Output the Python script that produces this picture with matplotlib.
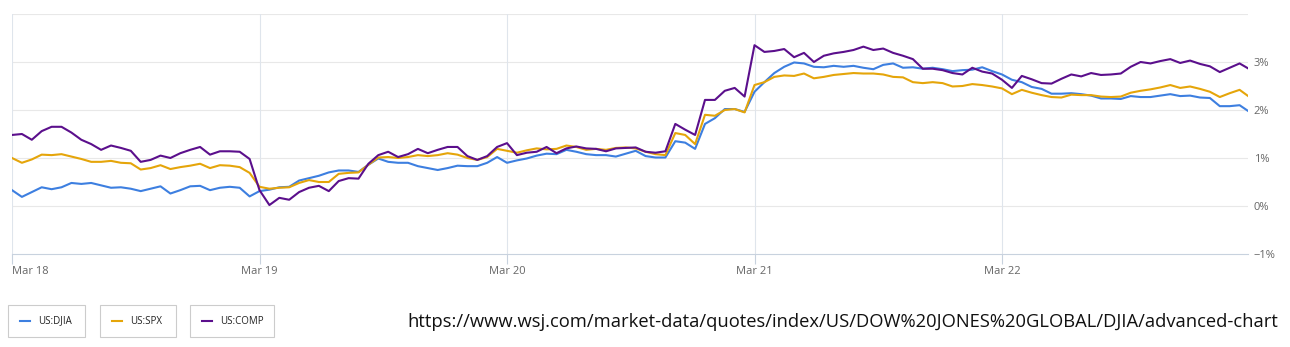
import matplotlib
matplotlib.use("Agg")
import matplotlib.pyplot as plt
import numpy as np
from matplotlib.lines import Line2D
from matplotlib.patches import Rectangle

# percent change, sampled 25 times per session
djia = [0.33, 0.19, 0.29, 0.39, 0.35, 0.39, 0.48, 0.46, 0.48, 0.43,
        0.38, 0.39, 0.36, 0.31, 0.36, 0.41, 0.26, 0.33, 0.41, 0.42,
        0.33, 0.38, 0.40, 0.38, 0.20, 0.31, 0.34, 0.39, 0.40, 0.53,
        0.58, 0.63, 0.70, 0.74, 0.74, 0.71, 0.86, 0.99, 0.92, 0.90,
        0.90, 0.83, 0.79, 0.75, 0.79, 0.84, 0.83, 0.83, 0.90, 1.02,
        0.90, 0.95, 0.99, 1.05, 1.09, 1.08, 1.17, 1.13, 1.08, 1.06,
        1.06, 1.03, 1.09, 1.15, 1.04, 1.01, 1.01, 1.35, 1.32, 1.19,
        1.71, 1.83, 2.02, 2.02, 1.96, 2.38, 2.58, 2.77, 2.90, 2.99,
        2.97, 2.90, 2.89, 2.92, 2.90, 2.92, 2.88, 2.85, 2.94, 2.97,
        2.88, 2.89, 2.86, 2.88, 2.85, 2.81, 2.83, 2.84, 2.89, 2.81,
        2.74, 2.63, 2.58, 2.48, 2.44, 2.34, 2.34, 2.35, 2.33, 2.30,
        2.24, 2.24, 2.23, 2.29, 2.27, 2.27, 2.30, 2.33, 2.29, 2.30,
        2.26, 2.25, 2.08, 2.08, 2.10, 1.96]
spx = [1.00, 0.90, 0.97, 1.07, 1.06, 1.08, 1.03, 0.98, 0.92, 0.92,
       0.94, 0.90, 0.89, 0.76, 0.79, 0.85, 0.77, 0.81, 0.84, 0.88,
       0.79, 0.85, 0.84, 0.81, 0.69, 0.40, 0.36, 0.38, 0.39, 0.48,
       0.54, 0.50, 0.50, 0.67, 0.69, 0.70, 0.86, 1.01, 1.02, 1.00,
       1.02, 1.06, 1.04, 1.06, 1.10, 1.07, 1.00, 0.96, 1.02, 1.19,
       1.15, 1.11, 1.16, 1.20, 1.18, 1.19, 1.26, 1.23, 1.17, 1.19,
       1.17, 1.21, 1.22, 1.20, 1.13, 1.08, 1.06, 1.52, 1.48, 1.29,
       1.90, 1.88, 2.00, 2.02, 1.95, 2.52, 2.58, 2.69, 2.72, 2.71,
       2.76, 2.66, 2.69, 2.73, 2.75, 2.77, 2.76, 2.76, 2.74, 2.69,
       2.68, 2.58, 2.56, 2.58, 2.56, 2.49, 2.50, 2.54, 2.52, 2.49,
       2.45, 2.33, 2.42, 2.36, 2.31, 2.27, 2.26, 2.32, 2.31, 2.31,
       2.28, 2.27, 2.28, 2.36, 2.40, 2.43, 2.47, 2.52, 2.46, 2.49,
       2.44, 2.38, 2.27, 2.35, 2.42, 2.27]
comp = [1.48, 1.50, 1.38, 1.56, 1.65, 1.65, 1.53, 1.38, 1.29, 1.17,
        1.26, 1.21, 1.15, 0.92, 0.96, 1.05, 1.00, 1.10, 1.17, 1.23,
        1.07, 1.14, 1.14, 1.13, 0.98, 0.33, 0.02, 0.17, 0.13, 0.29,
        0.38, 0.42, 0.31, 0.52, 0.58, 0.57, 0.88, 1.06, 1.13, 1.02,
        1.08, 1.19, 1.10, 1.17, 1.23, 1.23, 1.04, 0.96, 1.04, 1.23,
        1.31, 1.06, 1.11, 1.13, 1.23, 1.10, 1.20, 1.24, 1.20, 1.19,
        1.14, 1.20, 1.21, 1.22, 1.13, 1.11, 1.14, 1.71, 1.59, 1.48,
        2.21, 2.21, 2.40, 2.46, 2.28, 3.35, 3.21, 3.23, 3.27, 3.10,
        3.19, 3.00, 3.13, 3.18, 3.21, 3.25, 3.32, 3.25, 3.28, 3.19,
        3.13, 3.06, 2.86, 2.86, 2.83, 2.77, 2.74, 2.88, 2.80, 2.76,
        2.63, 2.46, 2.71, 2.64, 2.56, 2.55, 2.65, 2.74, 2.70, 2.77,
        2.73, 2.74, 2.76, 2.90, 3.00, 2.97, 3.02, 3.06, 2.98, 3.03,
        2.96, 2.91, 2.79, 2.88, 2.97, 2.85]

names = ["US:DJIA", "US:SPX", "US:COMP"]
colors = ["#3d7fe0", "#e5a50a", "#5b0f8c"]
day_labels = ["Mar 18", "Mar 19", "Mar 20", "Mar 21", "Mar 22"]
y_ticks = [-1, 0, 1, 2, 3, 4]
per_day = 25

fig = plt.figure(figsize=(12.9, 3.47), dpi=100)
ax = fig.add_axes([12 / 1290, 93 / 347, 1236 / 1290, 240 / 347])

x = np.arange(len(djia))
for series, c in zip([djia, spx, comp], colors):
    ax.plot(x, series, color=c, lw=1.5, solid_joinstyle="round")

ax.set_xlim(0, 1236 / 9.9)
ax.set_ylim(-1, 4)

day_pos = [i * per_day for i in range(len(day_labels))]
ax.set_xticks(day_pos)
ax.set_xticklabels(day_labels)
ax.get_xticklabels()[0].set_ha("left")
ax.set_yticks(y_ticks)
ax.set_yticklabels(["\u22121%", "0%", "1%", "2%", "3%", ""])

ax.yaxis.tick_right()
for s in ["top", "right", "left"]:
    ax.spines[s].set_visible(False)
ax.spines["bottom"].set_color("#c8d2de")
ax.tick_params(axis="x", length=7, color="#c8d2de", labelsize=8,
               labelcolor="#666666", pad=2)
ax.tick_params(axis="y", length=0, labelsize=8, labelcolor="#666666", pad=4)
for t in ax.get_xticklabels() + ax.get_yticklabels():
    t.set_fontfamily("Open Sans")

for v in y_ticks[1:]:
    ax.axhline(v, color="#e8e8e8", lw=0.8, zorder=0)
for p in day_pos:
    ax.axvline(p, color="#dfe5ec", lw=0.8, zorder=0)

# legend boxes
boxes = [(8, 77), (100, 76), (190, 84)]
for (bx, bw), name, c in zip(boxes, names, colors):
    fig.add_artist(Rectangle((bx / 1290, 10 / 347), bw / 1290, 32 / 347,
                             transform=fig.transFigure, fc="white",
                             ec="#cccccc", lw=0.8))
    fig.add_artist(Line2D([(bx + 12) / 1290, (bx + 22) / 1290],
                          [26 / 347, 26 / 347], transform=fig.transFigure,
                          color=c, lw=1.5))
    fig.text((bx + 30) / 1290, 26 / 347, name, fontsize=7,
             family="Open Sans", color="#222222", va="center")

fig.text(1278 / 1290, 25 / 347,
         "https://www.wsj.com/market-data/quotes/index/US/DOW%20JONES%20GLOBAL/DJIA/advanced-chart",
         fontsize=13.2, family="Open Sans", color="#111111", ha="right",
         va="center")

fig.savefig("out.png", dpi=100)
